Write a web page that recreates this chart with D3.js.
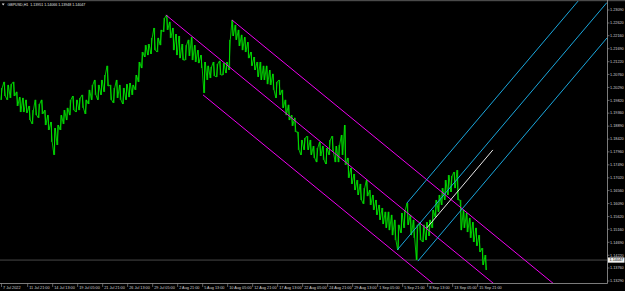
<!DOCTYPE html>
<html>
<head>
<meta charset="utf-8">
<script src="https://cdn.jsdelivr.net/npm/d3@7"></script>
<style>
  body { margin: 0; background: #000; overflow: hidden; }
  svg { display: block; }
  text { font-family: "Liberation Sans", Arial, sans-serif; }
</style>
</head>
<body>
<div id="chart"></div>
<script>
// GBPUSD H1, one sample every 8 bars (high / low)
const highs = [1.2027,1.2049,1.2038,1.2041,1.2049,1.2013,1.1994,1.1991,1.1984,1.1962,
  1.1947,1.1984,1.1969,1.1984,1.1947,1.1929,1.1904,1.1882,1.1893,1.1929,
  1.1947,1.1955,1.1984,1.1998,1.1984,1.1991,1.2002,1.1984,1.2020,1.2038,
  1.2056,1.2038,1.2056,1.2074,1.2107,1.2038,1.2027,1.2056,1.2038,1.2027,
  1.2041,1.2045,1.2038,1.2074,1.2121,1.2157,1.2182,1.2186,1.2208,1.2244,
  1.2208,1.2237,1.2280,1.2291,1.2266,1.2244,1.2222,1.2215,1.2186,1.2182,
  1.2201,1.2211,1.2182,1.2164,1.2146,1.2121,1.2107,1.2103,1.2121,1.2114,
  1.2125,1.2117,1.2121,1.2201,1.2273,1.2255,1.2237,1.2219,1.2211,1.2193,
  1.2157,1.2139,1.2121,1.2121,1.2107,1.2107,1.2092,1.2078,1.2049,1.2056,
  1.2020,1.1984,1.1966,1.1929,1.1919,1.1868,1.1839,1.1846,1.1853,1.1839,
  1.1817,1.1810,1.1832,1.1817,1.1810,1.1839,1.1853,1.1817,1.1821,1.1857,
  1.1893,1.1774,1.1738,1.1716,1.1694,1.1680,1.1665,1.1694,1.1658,1.1640,
  1.1622,1.1604,1.1593,1.1579,1.1579,1.1568,1.1550,1.1532,1.1575,1.1586,
  1.1611,1.1568,1.1550,1.1532,1.1539,1.1532,1.1542,1.1550,1.1586,1.1622,
  1.1640,1.1665,1.1694,1.1712,1.1709,1.1723,1.1730,1.1622,1.1586,1.1575,
  1.1557,1.1542,1.1521,1.1495,1.1448,1.1423];
const lows = [1.1984,1.1998,1.1984,1.1991,1.1998,1.1962,1.1940,1.1940,1.1937,1.1911,
  1.1897,1.1929,1.1919,1.1933,1.1893,1.1875,1.1832,1.1785,1.1821,1.1875,
  1.1897,1.1911,1.1929,1.1947,1.1940,1.1947,1.1955,1.1933,1.1969,1.1984,
  1.2002,1.1984,1.2002,1.2013,1.2034,1.1984,1.1973,1.1991,1.1984,1.1969,
  1.1984,1.1994,1.2002,1.2020,1.2049,1.2099,1.2139,1.2146,1.2150,1.2164,
  1.2157,1.2182,1.2230,1.2237,1.2208,1.2164,1.2146,1.2135,1.2128,1.2128,
  1.2143,1.2128,1.2121,1.2117,1.2099,1.2009,1.2056,1.2063,1.2070,1.2067,
  1.2074,1.2074,1.2081,1.2092,1.2215,1.2201,1.2179,1.2164,1.2157,1.2135,
  1.2107,1.2092,1.2067,1.2056,1.2056,1.2041,1.2038,1.2020,1.1991,1.2002,
  1.1955,1.1929,1.1911,1.1890,1.1868,1.1803,1.1785,1.1803,1.1803,1.1785,
  1.1774,1.1759,1.1781,1.1767,1.1752,1.1785,1.1796,1.1759,1.1759,1.1785,
  1.1749,1.1702,1.1680,1.1658,1.1640,1.1622,1.1608,1.1636,1.1604,1.1586,
  1.1568,1.1550,1.1535,1.1521,1.1513,1.1495,1.1477,1.1441,1.1503,1.1521,
  1.1532,1.1495,1.1485,1.1405,1.1477,1.1470,1.1477,1.1492,1.1521,1.1560,
  1.1579,1.1604,1.1622,1.1640,1.1651,1.1665,1.1622,1.1513,1.1521,1.1506,
  1.1485,1.1470,1.1456,1.1434,1.1387,1.1369];
const sampleStep = 8; // bars between samples

// price axis labels (right) and time axis labels (bottom, with bar index)
const priceTicks = ["1.23090","1.22620","1.22160","1.21690","1.21220","1.20760","1.20290",
  "1.19820","1.19360","1.18890","1.18420","1.17960","1.17490","1.17020","1.16560",
  "1.16090","1.15620","1.15160","1.14690","1.14220","1.13760","1.13290"];
const timeLabels = ["7 Jul 2022","11 Jul 21:00","14 Jul 13:00","19 Jul 05:00","21 Jul 21:00",
  "26 Jul 13:00","29 Jul 05:00","2 Aug 21:00","5 Aug 13:00","10 Aug 05:00","12 Aug 21:00",
  "17 Aug 13:00","22 Aug 05:00","24 Aug 21:00","29 Aug 13:00","1 Sep 05:00","5 Sep 21:00",
  "8 Sep 13:00","13 Sep 05:00","15 Sep 21:00"];
const timeBars = [0,67,131,195,259,323,387,451,515,579,643,707,771,835,899,963,1027,1091,1155,1219];

const lastPrice = 1.14047;
const header = "GBPUSD,H1  1.13951 1.14066 1.13948 1.14047";

// drawn objects: [bar, price] anchors
const channelLines = [
  [[421, 1.2291], [1258, 1.1322]],
  [[590, 1.2273], [1411, 1.1322]],
  [[516, 1.2002], [1103, 1.1322]]
];
const pitchfork = [[1013, 1.1441], [1038, 1.1611], [1066, 1.1401]];
const whiteLine = [[1089, 1.1521], [1258, 1.1803]];

const width = 625, height = 291;
const plot = {right: 607, top: 1, bottom: 283};

const svg = d3.select("#chart").append("svg")
    .attr("width", width).attr("height", height);
svg.append("rect").attr("width", width).attr("height", height).attr("fill", "#000");

const x = d3.scaleLinear().domain([0, 1550]).range([1.5, 1.5 + 1550 * 0.3906]);
const y = d3.scaleLinear().domain([1.13290, 1.23090]).range([281, 10]);

svg.append("clipPath").attr("id", "clip")
    .append("rect").attr("x", 0).attr("y", plot.top)
    .attr("width", plot.right).attr("height", plot.bottom - plot.top);

const chart = svg.append("g").attr("clip-path", "url(#clip)");

// current price line
chart.append("line")
    .attr("x1", 0).attr("x2", plot.right)
    .attr("y1", y(lastPrice)).attr("y2", y(lastPrice))
    .attr("stroke", "#5a5a5a").attr("stroke-width", 0.8);

// price bars
chart.selectAll("line.bar")
    .data(highs)
    .join("line")
    .attr("class", "bar")
    .attr("x1", (d, k) => x(k * sampleStep)).attr("x2", (d, k) => x(k * sampleStep))
    .attr("y1", d => y(d)).attr("y2", (d, k) => y(lows[k]))
    .attr("stroke", "#00b800").attr("stroke-width", 1);

// scribble joining the bars
let pts = [];
highs.forEach((h, k) => {
    const mid = (h + lows[k]) / 2;
    const nextMid = k < highs.length - 1 ? (highs[k + 1] + lows[k + 1]) / 2 : mid;
    const xk = x(k * sampleStep);
    if (nextMid > mid) { pts.push([xk - 0.7, y(lows[k])], [xk + 0.7, y(h)]); }
    else { pts.push([xk - 0.7, y(h)], [xk + 0.7, y(lows[k])]); }
});
chart.append("path")
    .attr("d", d3.line()(pts))
    .attr("fill", "none").attr("stroke", "#00ee00").attr("stroke-width", 0.8);

// extend a line from anchor a through b up to bar index 1550
function ray(a, b) {
    const slope = (b[1] - a[1]) / (b[0] - a[0]);
    return [[x(a[0]), y(a[1])], [x(1550), y(a[1] + slope * (1550 - a[0]))]];
}

// magenta channel
channelLines.forEach(l => {
    const r = ray(l[0], l[1]);
    chart.append("line")
        .attr("x1", r[0][0]).attr("y1", r[0][1]).attr("x2", r[1][0]).attr("y2", r[1][1])
        .attr("stroke", "#f000f0").attr("stroke-width", 1);
});

// andrews pitchfork
const mid = [(pitchfork[1][0] + pitchfork[2][0]) / 2, (pitchfork[1][1] + pitchfork[2][1]) / 2];
const pfSlope = (mid[1] - pitchfork[0][1]) / (mid[0] - pitchfork[0][0]);
pitchfork.forEach(p => {
    const r = ray(p, [p[0] + 100, p[1] + pfSlope * 100]);
    chart.append("line")
        .attr("x1", r[0][0]).attr("y1", r[0][1]).attr("x2", r[1][0]).attr("y2", r[1][1])
        .attr("stroke", "#1aa6dc").attr("stroke-width", 1);
});

// white trend line
chart.append("line")
    .attr("x1", x(whiteLine[0][0])).attr("y1", y(whiteLine[0][1]))
    .attr("x2", x(whiteLine[1][0])).attr("y2", y(whiteLine[1][1]))
    .attr("stroke", "#e8e8e8").attr("stroke-width", 1);

// frame
svg.append("rect").attr("x", 0).attr("y", 0).attr("width", width).attr("height", 1.2).attr("fill", "#4a4a4a");
svg.append("line").attr("x1", plot.right + 0.5).attr("x2", plot.right + 0.5)
    .attr("y1", 0).attr("y2", plot.bottom + 0.5).attr("stroke", "#9a9a9a").attr("stroke-width", 0.8);
svg.append("line").attr("x1", 0).attr("x2", plot.right + 0.5)
    .attr("y1", plot.bottom + 0.5).attr("y2", plot.bottom + 0.5).attr("stroke", "#9a9a9a").attr("stroke-width", 0.8);

// right price axis
const pAxis = svg.append("g");
priceTicks.forEach(t => {
    const yy = y(+t);
    pAxis.append("line").attr("x1", plot.right + 0.5).attr("x2", plot.right + 2.5)
        .attr("y1", yy).attr("y2", yy).attr("stroke", "#9a9a9a").attr("stroke-width", 0.6);
    pAxis.append("text").attr("x", 610).attr("y", yy).attr("dy", "0.35em")
        .attr("font-size", 3.8).attr("fill", "#d0d0d0").text(t);
});

// last price box
svg.append("rect").attr("x", plot.right + 1).attr("y", y(lastPrice) - 2.6)
    .attr("width", 16.5).attr("height", 5.2).attr("fill", "#f0f0f0");
svg.append("text").attr("x", 609.5).attr("y", y(lastPrice)).attr("dy", "0.35em")
    .attr("font-size", 3.8).attr("fill", "#000").text(lastPrice.toFixed(5));

// bottom time axis
timeLabels.forEach((t, i) => {
    const xx = x(timeBars[i]);
    svg.append("line").attr("x1", xx).attr("x2", xx)
        .attr("y1", plot.bottom + 0.5).attr("y2", plot.bottom + 4)
        .attr("stroke", "#9a9a9a").attr("stroke-width", 0.6);
    svg.append("text").attr("x", xx + 1.5).attr("y", 288.5)
        .attr("font-size", 3.8).attr("fill", "#d0d0d0").text(t);
});

// header
svg.append("path").attr("d", "M1.8,3.4 L4.6,3.4 L3.2,5.6 Z").attr("fill", "#e0e0e0");
svg.append("text").attr("x", 7.5).attr("y", 6.2)
    .attr("font-size", 3.6).attr("fill", "#e0e0e0").attr("xml:space", "preserve").text(header);
</script>
</body>
</html>
